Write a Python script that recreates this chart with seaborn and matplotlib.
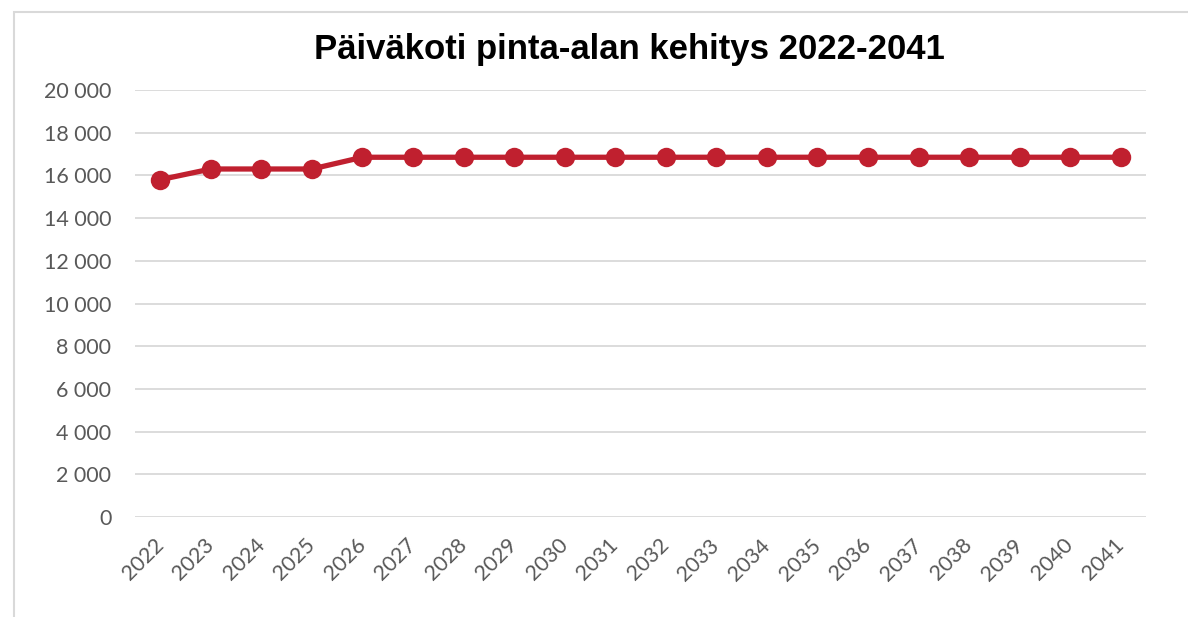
import matplotlib
matplotlib.use("Agg")
import matplotlib.pyplot as plt
import matplotlib.transforms as mtransforms
import seaborn as sns
import pandas as pd
from matplotlib.patches import Rectangle
from matplotlib.ticker import FuncFormatter

years = [str(y) for y in range(2022, 2042)]
values = [15800, 16300, 16300, 16300] + [16850] * 16
title = "Päiväkoti pinta-alan kehitys 2022-2041"

sns.set_theme(style="white")
plt.rcParams['font.family'] = ['Lato', 'DejaVu Sans']

fig = plt.figure(figsize=(11.88, 6.17), dpi=100)
ax = fig.add_axes([135/1188, 1-517/617, (1146-135)/1188, (517-90)/617])

df = pd.DataFrame({"year": years, "value": values})
sns.lineplot(data=df, x="year", y="value", ax=ax, color="#C0202F", linewidth=3.8,
             marker="o", markersize=14, markeredgewidth=0, sort=False)

ax.set_xlim(-0.5, len(years) - 0.5)
ax.set_ylim(0, 20000)
ax.set_yticks(range(0, 20001, 2000))
ax.yaxis.set_major_formatter(FuncFormatter(lambda v, p: f"{int(v):,}".replace(",", " ")))
ax.grid(axis="y", color="#D9D9D9", linewidth=1.3)
ax.set_axisbelow(True)
for s in ax.spines.values():
    s.set_visible(False)
ax.set_xlabel("")
ax.set_ylabel("")
ax.tick_params(axis="both", length=0, labelsize=15.5, colors="#595959")
ax.tick_params(axis="y", pad=17)
ax.tick_params(axis="x", pad=13)
offset = mtransforms.ScaledTranslation(-7/100, 0, fig.dpi_scale_trans)
for lbl in ax.get_xticklabels():
    lbl.set_rotation(45)
    lbl.set_ha("right")
    lbl.set_rotation_mode("anchor")
    lbl.set_transform(lbl.get_transform() + offset)

fig.text(629/1188, 1-50/617, title, ha="center", va="center", fontsize=25,
         fontweight="bold", family=["Liberation Sans", "DejaVu Sans"],
         color="black")

fig.patches.append(Rectangle((13.5/1188, -0.1), 1.2, 1.1 - 12/617, transform=fig.transFigure,
                             fill=False, edgecolor="#D9D9D9", linewidth=1.5))

fig.savefig("out.png", dpi=100)
